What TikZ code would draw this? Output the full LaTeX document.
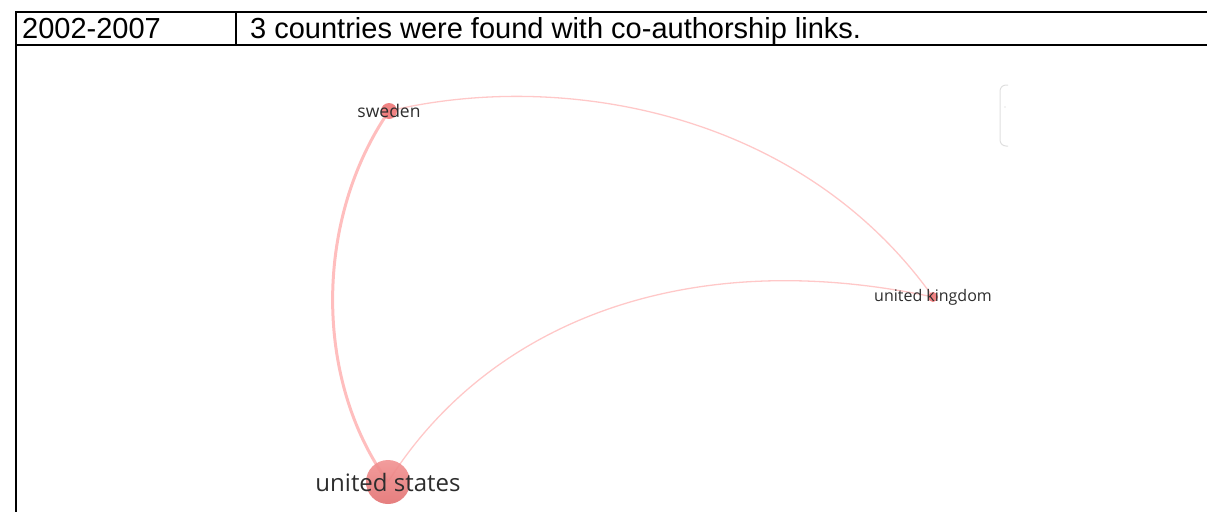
\documentclass[tikz,border=0pt]{standalone}
\usepackage{fontspec}
\setmainfont{Liberation Sans}
\newfontfamily\mapfont{Open Sans}
\usepackage{tikz}
\usetikzlibrary{calc, backgrounds, positioning}
\definecolor{linkpink}{RGB}{255,200,200}
\definecolor{nodered}{RGB}{238,118,118}
\definecolor{labelgray}{RGB}{45,45,45}
\tikzset{
    rulenode/.style = {draw=none, fill=none, rectangle, inner sep=0pt, anchor=base west,
      font=\fontsize{29}{32}\selectfont},
    countrynode/.style = {circle, draw=none, fill=nodered, fill opacity=0.9, inner sep=0pt},
    countrytext/.style = {draw=none, fill=none, inner sep=0pt, text=labelgray},
    link/.style = {linkpink, line width=1.3pt},
    stronglink/.style = {linkpink!95!red, line width=3pt},
    tablerule/.style = {black, line width=1.8pt}
}

\begin{document}
\begin{tikzpicture}[x=1pt, y=-1pt]
    \useasboundingbox (0,0) rectangle (1207,512);

    % table frame
    \draw[tablerule] (16,12) -- (1207,12);
    \draw[tablerule] (16,45) -- (1207,45);
    \draw[tablerule] (16,11.1) -- (16,512);
    \draw[tablerule] (236,12) -- (236,45);
    \node [rulenode, name=period] at (22,38) {2002-2007};
    \node [rulenode, name=caption] at (250,38) {3 countries were found with co-authorship links.};

    % countries
    \node [countrynode, name=sweden, minimum size=16pt] at (389,111) {};
    \node [countrynode, name=uk, minimum size=10pt] at (933,297) {};
    \node [countrynode, name=usa, minimum size=44pt, fill=none, top color=nodered!80!white,
      bottom color=nodered!95!black] at (388,482) {};
    \node [countrytext, name=swedenlabel, font=\mapfont\fontsize{17.5}{19}\selectfont] at (sweden) {sweden};
    \node [countrytext, name=uklabel, font=\mapfont\fontsize{16}{18}\selectfont] at (uk) {united kingdom};
    \node [countrytext, name=usalabel, font=\mapfont\fontsize{24}{27}\selectfont] at (usa) {united states};

    % co-authorship links
    \begin{scope}[on background layer]
    \draw[stronglink] (sweden.center) .. controls (314,220) and (314,380) .. (usa.center);
    \draw[link] (sweden.center) .. controls (560,70) and (800,110) .. (uk.center);
    \draw[link] (usa.center) .. controls (490,320) and (690,245) .. (uk.center);
    \end{scope}

    % legend edge (cut off)
    \draw[gray!25, line width=1pt, rounded corners=6pt] (1008,85) -- (1000,85) -- (1000,146) -- (1008,146);
    \fill[gray!40] (1005,107) circle (0.7pt);
\end{tikzpicture}
\end{document}
